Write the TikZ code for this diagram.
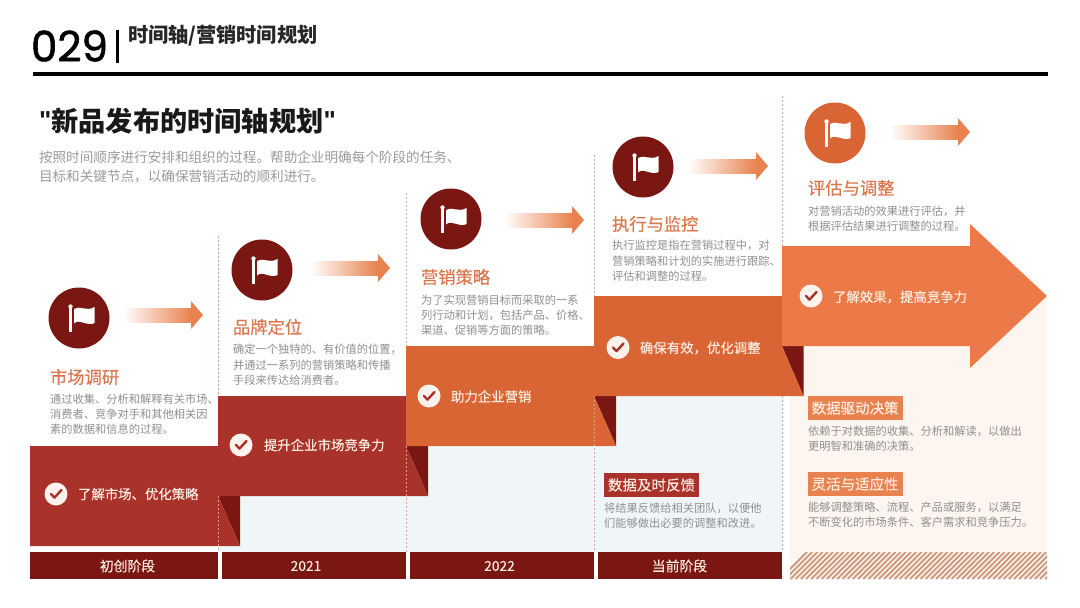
\documentclass[tikz,border=0pt]{standalone}
\usepackage{fontspec}
\setmainfont{Noto Sans CJK SC}
\newfontfamily\medcjk[FakeBold=0.35]{Noto Sans CJK SC}
\newfontfamily\numfont[FakeBold=1.4]{Poppins}
\newfontfamily\quotefont{Liberation Sans}
\usetikzlibrary{calc}
\definecolor{deepred}{HTML}{7A1712}
\definecolor{brick}{HTML}{A9332A}
\definecolor{burnt}{HTML}{D96535}
\definecolor{coral}{HTML}{EC7A48}
\definecolor{tagorange}{HTML}{E8834F}
\definecolor{headcol}{HTML}{D9784F}
\definecolor{bodygrey}{HTML}{8F8F8F}
\definecolor{subgrey}{HTML}{9A9A9A}
\definecolor{paleblue}{HTML}{F0F6F8}
\definecolor{cream}{HTML}{FDF5F0}
\definecolor{dashcol}{HTML}{D8A08F}
\definecolor{pale}{HTML}{FBEADF}
\definecolor{hatchcol}{HTML}{CC9A7E}
\tikzset{
  x=1pt,y=-1pt,
  txt/.style={inner sep=0pt,outer sep=0pt,anchor=west,align=left},
  heading/.style={txt,text=headcol,font=\medcjk\fontsize{17.3}{20}\selectfont},
  bodytext/.style={txt,text=bodygrey,font=\fontsize{11.25}{15.3}\selectfont},
  checktext/.style={txt,text=pale,font=\medcjk\fontsize{13.4}{16}\selectfont},
  yeartext/.style={inner sep=0pt,outer sep=0pt,text=pale,font=\medcjk\fontsize{13.8}{16}\selectfont},
  tagbox/.style={inner sep=0pt,outer sep=0pt,anchor=north west,text=pale,font=\medcjk\fontsize{14.5}{17}\selectfont,minimum height=24pt,minimum width=95pt},
  timeline/.style={dashcol,dashed,dash pattern=on 2pt off 2pt,line width=0.9pt},
  pics/flagmark/.style={code={
    \fill[white] (-8.5,-11.5) circle (2.2);
    \fill[white] (-9.7,-11) rectangle (-7.4,14);
    \fill[white] (-5,-9) .. controls (0,-13) and (8,-6) .. (15.5,-11) -- (15.5,5) .. controls (8,9) and (0,0) .. (-5,5.5) -- cycle;
  }},
  pics/checkmark/.style={code={
    \fill[pale!60!white] (0,0) circle (11.5);
    \draw[#1,line width=2.4pt,line cap=round,line join=round] (-5,0) -- (-1.5,3.6) -- (5.5,-4);
  }},
  pics/fadearrow/.style={code={
    \shade[left color=white,middle color=tagorange!35!white,right color=tagorange,draw=none] (-80,-7) rectangle (-12,7);
    \fill[tagorange] (-12,-14) -- (0,0) -- (-12,14) -- cycle;
  }},
}
\begin{document}
\begin{tikzpicture}
\useasboundingbox (0,0) rectangle (1080,608);
\fill[white] (0,0) rectangle (1080,608);

% background panels
\fill[paleblue] (218,396) rectangle (782,552);
\fill[cream] (790,296) rectangle (1047,552);

% header
\node[txt,font=\numfont\fontsize{42}{46}\selectfont,text=black] (num) at (31,46) {029};
\fill[black] (115.7,29.5) rectangle (118.7,62.7);
\node[txt,font=\bfseries\fontsize{20.2}{22}\selectfont,text=black!85] (head) at (128,36) {时间轴/营销时间规划};
\fill[black] (33,72) rectangle (1048,76);

\node[txt,font=\bfseries\fontsize{27.2}{30}\selectfont,text=black!90] (maintitle) at (51.5,121) {新品发布的时间轴规划};
\node[txt,font=\quotefont\bfseries\fontsize{26}{30}\selectfont,text=black!90,anchor=east] (qa) at (maintitle.west) {"};
\node[txt,font=\quotefont\bfseries\fontsize{26}{30}\selectfont,text=black!90] (qb) at (maintitle.east) {"};
\node[txt,text=subgrey,font=\fontsize{13.6}{19}\selectfont] (subtitle) at (39,166.5) {按照时间顺序进行安排和组织的过程。帮助企业明确每个阶段的任务、\\目标和关键节点，以确保营销活动的顺利进行。};

% fold triangles
\fill[deepred] (218,496) -- (240,496) -- (240,546) -- cycle;
\fill[deepred] (406,446) -- (428,446) -- (428,496) -- cycle;
\fill[deepred] (594,396) -- (616,396) -- (616,446) -- cycle;
\fill[deepred] (782,346) -- (803.5,346) -- (803.5,396) -- cycle;

% banners
\fill[brick] (30,446) -- (218,446) -- (218,496) -- (240,546) -- (30,546) -- cycle;
\fill[brick] (218,396) -- (406,396) -- (406,446) -- (428,496) -- (218,496) -- cycle;
\fill[burnt] (406,346) -- (594,346) -- (594,396) -- (616,446) -- (406,446) -- cycle;
\fill[burnt] (594,296) -- (782,296) -- (782,346) -- (803.5,396) -- (594,396) -- cycle;
\fill[coral] (782,246) -- (970,246) -- (970,224) -- (1047,296) -- (970,368) -- (970,346) -- (782,346) -- cycle;

% dashed time lines
\draw[timeline] (218,236) -- (218,396);
\draw[timeline] (218,496) -- (218,552);
\draw[timeline] (406,193) -- (406,346);
\draw[timeline] (406,446) -- (406,552);
\draw[timeline] (594,155) -- (594,296);
\draw[timeline] (594,396) -- (594,552);
\draw[timeline] (782,96) -- (782,246);
\draw[timeline] (782,396) -- (782,552);

% icons
\foreach \cx/\cy/\cc in {79/318/deepred,262/270/deepred,451/219/deepred,643/167/deepred,835/133/burnt}{
  \fill[\cc] (\cx,\cy) circle (30.5);
  \pic at (\cx,\cy) {flagmark};
}
\pic at (203,315) {fadearrow};
\pic at (390,268) {fadearrow};
\pic at (584,220) {fadearrow};
\pic at (768,166) {fadearrow};
\pic at (970,132) {fadearrow};

% step headings and descriptions
\node[heading] (h1) at (50,377) {市场调研};
\node[bodytext] (b1) at (50,414) {通过收集、分析和解释有关市场、\\消费者、竞争对手和其他相关因\\素的数据和信息的过程。};
\node[heading] (h2) at (233,327) {品牌定位};
\node[bodytext] (b2) at (233,365) {确定一个独特的、有价值的位置，\\并通过一系列的营销策略和传播\\手段来传达给消费者。};
\node[heading] (h3) at (421,277) {营销策略};
\node[bodytext] (b3) at (421,315) {为了实现营销目标而采取的一系\\列行动和计划，包括产品、价格、\\渠道、促销等方面的策略。};
\node[heading] (h4) at (612,224) {执行与监控};
\node[bodytext] (b4) at (612,261) {执行监控是指在营销过程中，对\\营销策略和计划的实施进行跟踪、\\评估和调整的过程。};
\node[heading] (h5) at (808,188) {评估与调整};
\node[bodytext] (b5) at (808,218.5) {对营销活动的效果进行评估，并\\根据评估结果进行调整的过程。};

% banner checks
\pic at (56,494) {checkmark=brick};
\node[checktext] (c1) at (78,494) {了解市场、优化策略};
\pic at (241,445) {checkmark=brick};
\node[checktext] (c2) at (264,445) {提升企业市场竞争力};
\pic at (429,396) {checkmark=brick};
\node[checktext] (c3) at (451,396.5) {助力企业营销};
\pic at (618,347.5) {checkmark=brick};
\node[checktext] (c4) at (640,348) {确保有效，优化调整};
\pic at (811,296) {checkmark=brick};
\node[checktext] (c5) at (833,297) {了解效果，提高竞争力};

% tags
\node[tagbox,fill=brick] (t1) at (604,473) {数据及时反馈};
\node[bodytext] (d1) at (604,515.5) {将结果反馈给相关团队，以便他\\们能够做出必要的调整和改进。};
\node[tagbox,fill=tagorange] (t2) at (807.6,396) {数据驱动决策};
\node[bodytext] (d2) at (808,438.5) {依赖于对数据的收集、分析和解读，以做出\\更明智和准确的决策。};
\node[tagbox,fill=tagorange] (t3) at (807.6,472) {灵活与适应性};
\node[bodytext] (d3) at (808,514.5) {能够调整策略、流程、产品或服务，以满足\\不断变化的市场条件、客户需求和竞争压力。};

% bottom bars
\fill[deepred] (30,552) rectangle (217.7,579);
\fill[deepred] (222,552) rectangle (405.6,579);
\fill[deepred] (410,552) rectangle (594,579);
\fill[deepred] (597.5,552) rectangle (782,579);
\node[yeartext] (y1) at (127.5,566) {初创阶段};
\node[yeartext] (y2) at (306,566) {2021};
\node[yeartext] (y3) at (499.5,566) {2022};
\node[yeartext] (y4) at (679.5,566) {当前阶段};
\begin{scope}
  \clip (790,552) rectangle (1047,579);
  \fill[cream] (790,552) rectangle (1047,579);
  \foreach \k in {0,5.2,...,300}{
    \draw[hatchcol,line width=1.9pt] ({790+\k-10},579) -- ({790+\k+17},552);
  }
\end{scope}
\end{tikzpicture}
\end{document}
